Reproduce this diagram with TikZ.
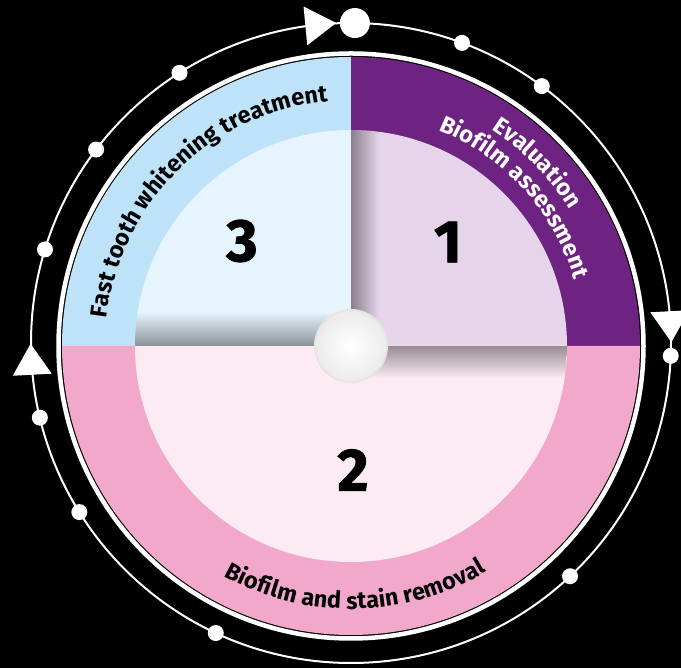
\documentclass[tikz,border=0pt]{standalone}
\usepackage{fontspec}
\setmainfont{Fira Sans}
\newfontfamily\numfont{Fira Sans}[FakeBold=1.5]
\usetikzlibrary{decorations.text,fadings}

\definecolor{bandblue}{HTML}{BEE3F8}
\definecolor{coreblue}{HTML}{E6F4FD}
\definecolor{bandpurple}{HTML}{6E2281}
\definecolor{corelilac}{HTML}{E6D5EA}
\definecolor{bandpink}{HTML}{F2A8CB}
\definecolor{corepink}{HTML}{FCEBF3}

\tikzfading[name=fadeup, top color=transparent!100, bottom color=transparent!0]
\tikzfading[name=fadedown, top color=transparent!0, bottom color=transparent!100]
\tikzfading[name=faderight, left color=transparent!0, right color=transparent!100]

\newcommand\bandfont{\bfseries\fontsize{23.5}{23.5}\selectfont}

\begin{document}
\begin{tikzpicture}[
        x=1pt, y=1pt,
        ringdot/.style={circle, fill=white, inner sep=0pt, minimum size=16pt},
        bigdot/.style={circle, fill=white, inner sep=0pt, minimum size=30pt},
        stepnum/.style={font=\numfont\bfseries\fontsize{60}{60}\selectfont, text=black},
        shadow/.style={black, opacity=0.4},
    ]

    \useasboundingbox (0,0) rectangle (681,668);
    \fill[black] (0,0) rectangle (681,668);

    \coordinate (dc) at (351,322);
    \coordinate (oc) at (351,325);

    % outer cycle
    \begin{scope}[shift={(oc)}]
        \draw[white, line width=2pt] (0,0) circle[radius=320];
        \foreach \a [count=\i] in {53.4,69.7,122.4,142.8,163,193.5,211.9,245,313.2,357.7}
            \node[ringdot] (dot\i) at (\a:320) {};
        \node[bigdot] (start) at (89.3:320) {};
        \foreach \a in {95.5,183,3}
            \fill[white, rotate=\a] (320,-16) -- (339.5,15) -- (300.5,15) -- cycle;
    \end{scope}

    % disc
    \begin{scope}[shift={(dc)}]
        \draw[white, line width=4.5pt] (0,0) circle[radius=292.5];
        \fill[bandblue] (0,0) -- (180:289) arc[start angle=180, end angle=90, radius=289] -- cycle;
        \fill[bandpurple] (0,0) -- (90:289) arc[start angle=90, end angle=0, radius=289] -- cycle;
        \fill[bandpink] (0,0) -- (0:289) arc[start angle=0, end angle=-180, radius=289] -- cycle;
        \fill[coreblue] (0,0) -- (180:216) arc[start angle=180, end angle=90, radius=216] -- cycle;
        \fill[corelilac] (0,0) -- (90:216) arc[start angle=90, end angle=0, radius=216] -- cycle;
        \fill[corepink] (0,0) -- (0:216) arc[start angle=0, end angle=-180, radius=216] -- cycle;
        % soft folds
        \begin{scope}
            \clip (0,0) circle[radius=216];
            \fill[shadow, path fading=fadeup] (-216,0) rectangle (0,34);
            \fill[shadow, path fading=faderight] (0,0) rectangle (28,216);
            \fill[shadow, path fading=fadedown] (0,0) rectangle (216,-32);
        \end{scope}
        \shade[inner color=white, outer color=black!8] (0,0) circle[radius=36];
        \draw[black!10, line width=2pt] (0,0) circle[radius=36];
    \end{scope}

    % step numbers
    \node[stepnum] (n3) at (242,427) {3};
    \node[stepnum] (n1) at (448,426) {1};
    \node[stepnum] (n2) at (353,198) {2};

    % band labels
    \path[shift={(dc)}, decorate, decoration={text along path, text align=center,
        text={|\bandfont|Fast tooth whitening treatment}}]
        (189.5:246) arc[start angle=189.5, end angle=79.5, radius=246];
    \path[shift={(dc)}, decorate, decoration={text along path, text align=center,
        text={|\bandfont\color{white}|Evaluation}}]
        (84.5:258) arc[start angle=84.5, end angle=4.5, radius=258];
    \path[shift={(dc)}, decorate, decoration={text along path, text align=center,
        text={|\bandfont\color{white}|Biofilm assessment}}]
        (92.2:233) arc[start angle=92.2, end angle=-7.8, radius=233];
    \path[shift={(dc)}, decorate, decoration={text along path, text align=center,
        text={|\bandfont|Biofilm and stain removal}}]
        (221:263) arc[start angle=221, end angle=321, radius=263];

\end{tikzpicture}
\end{document}
